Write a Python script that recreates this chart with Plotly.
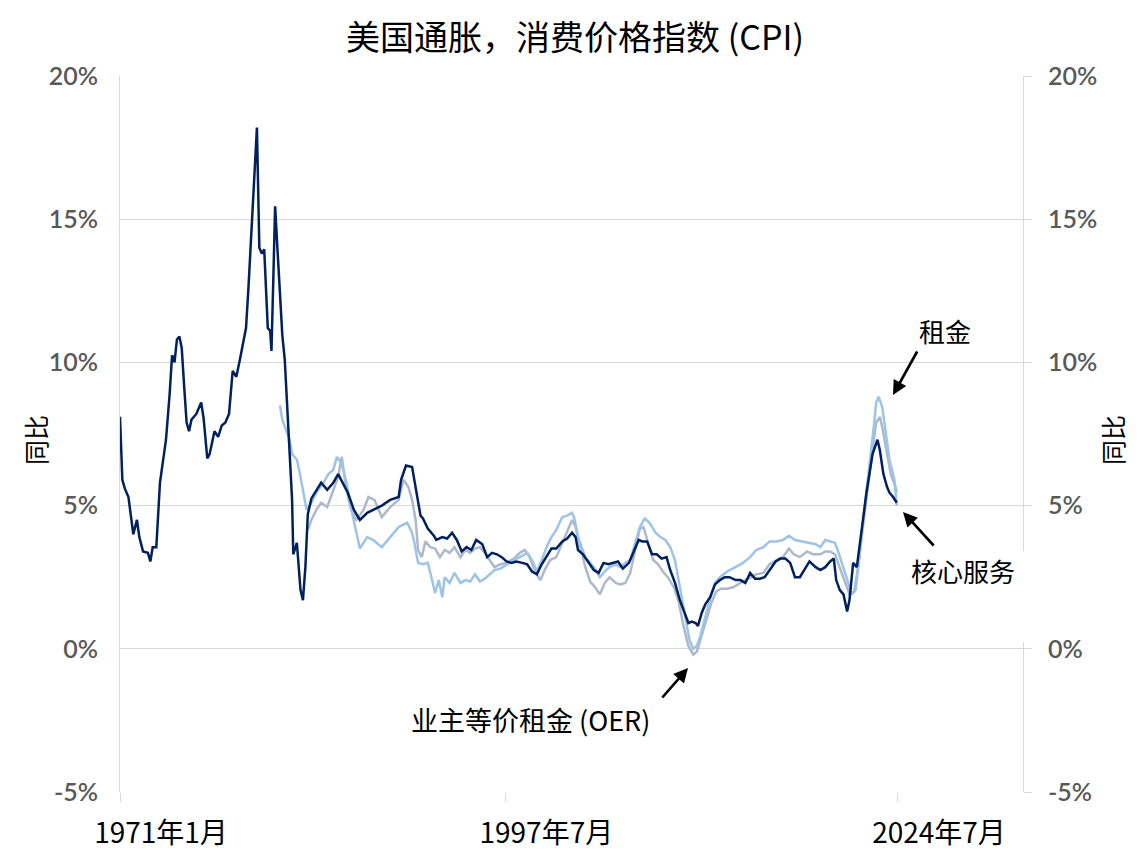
import plotly.graph_objects as go

# ---------------- data (YoY %, monthly readings picked off the chart) ----------------
core_dates = ["1971-01","1971-03","1971-05","1971-08","1971-12","1972-03","1972-05","1972-08","1972-12","1973-02",
"1973-04","1973-07","1973-10","1974-01","1974-03","1974-06","1974-08","1974-10","1974-12","1975-02",
"1975-04","1975-06","1975-08","1975-10","1975-12","1976-04","1976-08","1976-10","1977-01","1977-03",
"1977-07","1977-10","1978-01","1978-04","1978-07","1978-10","1979-01","1979-04","1979-06","1979-09",
"1979-11","1980-02","1980-04","1980-06","1980-08","1980-10","1980-12","1981-02","1981-03","1981-05",
"1981-06","1981-08","1981-09","1981-11","1982-01","1982-03","1982-05","1982-07","1982-09","1982-11",
"1982-12","1983-03","1983-06","1983-08","1983-10","1983-12","1984-03","1984-07","1984-11","1985-04",
"1985-09","1986-01","1986-05","1986-09","1987-02","1987-07","1988-01","1988-06","1989-01","1989-08",
"1990-03","1990-05","1990-09","1991-02","1991-04","1991-06","1991-09","1991-11","1992-03","1992-08",
"1992-10","1993-03","1993-07","1993-11","1994-03","1994-07","1994-11","1995-03","1995-07","1995-12",
"1996-04","1996-08","1996-12","1997-04","1997-08","1997-12","1998-04","1998-09","1999-01","1999-05",
"1999-09","2000-01","2000-05","2000-09","2001-01","2001-06","2001-10","2002-02","2002-05","2002-07",
"2002-11","2003-04","2003-08","2003-12","2004-04","2004-08","2004-12","2005-04","2005-08","2006-01",
"2006-05","2006-09","2006-12","2007-04","2007-08","2007-12","2008-04","2008-08","2008-11","2009-03",
"2009-07","2009-11","2010-02","2010-05","2010-08","2010-10","2011-01","2011-04","2011-08","2011-12",
"2012-04","2012-08","2012-12","2013-05","2013-09","2014-01","2014-05","2014-09","2015-01","2015-05",
"2015-09","2016-02","2016-06","2016-10","2017-02","2017-06","2017-10","2018-02","2018-06","2018-11",
"2019-03","2019-07","2019-11","2020-02","2020-04","2020-07","2020-10","2021-01","2021-03","2021-06",
"2021-09","2022-01","2022-05","2022-10","2023-01","2023-02","2023-04","2023-06","2023-07","2023-10",
"2023-12","2024-03","2024-06"]
core_services = [8.1,5.9,5.6,5.3,4.0,4.5,3.9,3.4,3.35,3.05,
3.55,3.55,5.8,6.8,7.3,8.9,10.25,10.0,10.8,10.9,
10.5,9.15,7.9,7.6,8.0,8.2,8.6,8.05,6.65,6.8,
7.6,7.4,7.8,7.9,8.2,9.7,9.5,10.1,10.5,11.2,
12.6,15.1,17.05,18.2,14.0,13.8,13.95,12.3,11.2,11.1,
10.4,13.7,15.45,13.9,12.2,10.95,10.1,8.3,6.6,5.2,
3.3,3.7,2.05,1.7,2.85,4.7,5.25,5.55,5.8,5.55,
5.8,6.1,5.8,5.45,4.85,4.5,4.75,4.85,5.0,5.2,
5.3,5.9,6.4,6.35,5.9,5.3,4.65,4.55,4.2,3.95,
3.8,3.9,3.85,4.05,3.8,3.4,3.55,3.45,3.8,3.65,
3.2,3.35,3.3,3.2,3.05,3.0,3.05,3.0,2.95,2.7,
2.6,2.95,3.2,3.5,3.5,3.75,3.85,4.05,3.9,3.45,
3.3,3.0,2.75,2.65,3.0,2.95,3.0,3.05,2.8,3.0,
3.4,3.8,3.75,3.75,3.3,3.3,3.15,3.2,2.75,2.3,
1.7,1.25,0.9,0.95,0.9,0.8,1.25,1.55,1.8,2.25,
2.4,2.5,2.5,2.4,2.4,2.3,2.65,2.45,2.45,2.5,
2.75,3.05,3.15,3.15,3.0,2.5,2.5,2.8,3.05,2.85,
2.75,2.85,3.05,3.15,2.4,2.05,1.9,1.3,1.7,3.0,
2.85,4.15,5.45,6.8,7.15,7.3,6.95,6.45,6.1,5.65,
5.45,5.3,5.1]

rent_dates = ["1982-01","1982-03","1982-06","1982-09","1982-11","1983-03","1983-06","1983-08","1983-11","1984-03",
"1984-07","1985-01","1985-05","1985-09","1985-12","1986-04","1986-08","1986-12","1987-04","1987-07",
"1988-01","1988-06","1989-01","1989-08","1990-03","1990-10","1991-02","1991-04","1991-07","1991-11",
"1992-03","1992-06","1992-09","1992-12","1993-03","1993-05","1993-09","1994-01","1994-06","1994-10",
"1995-02","1995-06","1995-10","1996-02","1996-06","1996-10","1997-03","1997-08","1998-02","1998-07",
"1999-01","1999-05","1999-09","2000-01","2000-05","2000-09","2001-01","2001-06","2001-10","2002-02",
"2002-04","2002-07","2003-01","2003-05","2003-09","2004-01","2004-05","2004-09","2005-02","2005-06",
"2005-10","2006-02","2006-06","2006-10","2007-02","2007-06","2007-11","2008-03","2008-07","2008-11",
"2009-03","2009-07","2009-11","2010-03","2010-06","2010-09","2010-12","2011-04","2011-08","2011-12",
"2012-04","2012-10","2013-03","2013-09","2013-11","2014-05","2014-10","2015-04","2015-09","2016-03",
"2016-08","2017-01","2017-06","2017-12","2018-05","2018-11","2019-03","2019-07","2019-11","2020-03",
"2020-06","2020-10","2021-02","2021-05","2021-08","2021-10","2022-02","2022-05","2022-08","2022-11",
"2023-01","2023-03","2023-06","2023-09","2023-12","2024-04","2024-06"]
rent = [8.5,8.0,7.65,7.3,6.8,6.6,6.0,5.5,4.85,5.1,
5.45,5.8,6.1,6.25,6.7,6.45,5.8,4.85,4.05,3.5,
3.9,3.8,3.55,3.9,4.25,4.4,4.05,3.7,3.0,2.95,
3.0,2.5,1.95,2.4,1.8,2.5,2.3,2.65,2.3,2.4,
2.35,2.6,2.35,2.45,2.6,2.75,2.8,2.95,3.1,3.2,
3.35,3.1,2.7,3.1,3.55,3.9,4.15,4.6,4.65,4.75,
4.55,3.9,3.2,3.0,2.8,2.5,2.7,2.85,2.95,2.85,
3.0,3.1,3.7,4.25,4.55,4.4,4.05,3.9,3.8,3.55,
3.1,2.15,1.25,0.3,0.0,0.1,0.45,1.15,1.75,2.3,
2.5,2.7,2.8,2.95,3.0,3.2,3.45,3.55,3.75,3.75,
3.8,3.95,3.8,3.75,3.7,3.65,3.55,3.8,3.75,3.7,
3.35,2.85,2.3,1.9,2.05,2.75,4.4,5.45,6.7,7.75,
8.6,8.8,8.45,7.5,6.6,5.9,5.0]

oer_dates = ["1983-12","1984-03","1984-07","1984-11","1985-04","1985-09","1986-01","1986-04","1986-07","1986-11",
"1987-04","1987-10","1988-02","1988-07","1989-01","1989-08","1990-03","1990-07","1990-11","1991-02",
"1991-05","1991-07","1991-10","1992-01","1992-05","1992-09","1993-01","1993-05","1993-09","1994-01",
"1994-06","1994-10","1995-02","1995-06","1995-10","1996-02","1996-06","1996-10","1997-03","1997-08",
"1998-02","1998-07","1998-11","1999-03","1999-08","1999-12","2000-04","2000-08","2001-01","2001-06",
"2001-10","2002-02","2002-05","2002-09","2003-01","2003-05","2003-09","2004-01","2004-05","2004-09",
"2005-02","2005-06","2005-10","2006-02","2006-06","2006-10","2007-01","2007-05","2007-09","2008-01",
"2008-05","2008-09","2009-02","2009-06","2009-10","2010-02","2010-06","2010-09","2011-01","2011-05",
"2011-09","2012-01","2012-05","2012-10","2013-03","2013-09","2013-11","2014-05","2014-10","2015-04",
"2015-09","2016-03","2016-08","2017-01","2017-05","2017-10","2018-04","2018-09","2019-03","2019-07",
"2019-11","2020-03","2020-07","2020-11","2021-03","2021-07","2021-10","2022-02","2022-06","2022-11",
"2023-01","2023-04","2023-06","2023-10","2024-01","2024-05","2024-06"]
oer = [4.15,4.5,4.85,5.1,4.95,5.55,6.0,6.7,5.8,4.95,
4.5,4.85,5.3,5.2,4.6,4.95,5.2,5.9,5.65,5.2,
4.5,3.45,3.2,3.75,3.55,3.5,3.2,3.45,3.35,3.55,
3.2,3.45,3.35,3.5,3.55,3.35,3.1,2.85,2.95,3.0,
3.15,3.35,3.45,3.2,2.65,2.4,2.8,3.1,3.2,3.7,
4.15,4.5,4.25,3.55,2.85,2.35,2.15,1.9,2.3,2.5,
2.3,2.25,2.3,2.65,3.45,4.2,4.25,3.7,3.1,2.95,
2.7,2.5,2.15,1.65,0.8,0.1,-0.2,-0.1,0.45,1.0,
1.6,2.0,2.1,2.1,2.15,2.3,2.35,2.5,2.6,2.65,
2.95,3.1,3.2,3.5,3.3,3.2,3.4,3.3,3.3,3.4,
3.4,3.3,2.85,2.4,1.9,2.0,2.85,4.25,5.65,7.3,
7.9,8.1,7.75,6.8,6.1,5.65,5.45]

x_tickvals = ["1971-01-01", "1997-07-01", "2024-07-01"]
x_ticktext = ["1971年1月", "1997年7月", "2024年7月"]
y_tickvals = [-5, 0, 5, 10, 15, 20]
y_ticktext = ["-5%", "0%", "5%", "10%", "15%", "20%"]

# ---------------- styling ----------------
NAVY = "#002060"
LIGHT = "#9DC3E6"
GRAY = "#ADB9CA"
GRID = "#D9D9D9"
CJK = "Noto Sans CJK SC"
TICKFONT = dict(family="Lato", size=25, color="#595959", weight=600)
OFF = 8  # page body margin of the browser

fig = go.Figure()
fig.add_trace(go.Scatter(x=oer_dates, y=oer, mode="lines", name="业主等价租金 (OER)",
                         line=dict(color=GRAY, width=2.5)))
fig.add_trace(go.Scatter(x=rent_dates, y=rent, mode="lines", name="租金",
                         line=dict(color=LIGHT, width=2.5)))
fig.add_trace(go.Scatter(x=core_dates, y=core_services, mode="lines", name="核心服务",
                         yaxis="y2", line=dict(color=NAVY, width=2.5)))

fig.update_layout(
    width=1143, height=855,
    margin=dict(l=120 - OFF, r=120 + OFF, t=76 - OFF, b=63 + OFF, autoexpand=False),
    paper_bgcolor="white", plot_bgcolor="white",
    showlegend=False,
    title=dict(text="美国通胀，消费价格指数 (CPI)", x=(575 - OFF) / 1143, xref="container",
               xanchor="center", y=1 - (38 - OFF) / 855, yref="container", yanchor="middle",
               font=dict(family=CJK, size=34, color="#000000")),
    xaxis=dict(type="date", range=["1971-01-01", "2033-02-04"], automargin=False,
               tickvals=x_tickvals, ticktext=x_ticktext,
               showgrid=False, zeroline=False, showline=False,
               ticks="outside", ticklen=9, tickcolor=GRID, tickwidth=1,
               ticklabelshift=41, ticklabelstandoff=7,
               tickfont=dict(family=CJK, size=28, color="#000000")),
    yaxis=dict(range=[-5, 20], tickvals=y_tickvals, ticktext=y_ticktext, automargin=False,
               showgrid=True, gridcolor=GRID, gridwidth=1, zeroline=False,
               showline=True, linecolor=GRID, linewidth=1,
               ticks="", ticklabelstandoff=16, tickfont=TICKFONT),
    yaxis2=dict(range=[-5, 20], tickvals=y_tickvals, ticktext=y_ticktext, automargin=False,
                overlaying="y", side="right", anchor="x",
                showgrid=False, zeroline=False,
                showline=True, linecolor=GRID, linewidth=1,
                ticks="outside", ticklen=8, tickcolor=GRID, ticklabelstandoff=11,
                tickfont=TICKFONT),
)

# white box behind the core-services label (as in the original)
fig.add_shape(type="rect", xref="paper", yref="paper", layer="above",
              x0=(900 - 120) / 903, x1=(1032 - 120) / 903,
              y0=(792 - 642) / 716, y1=(792 - 551) / 716,
              line=dict(width=0), fillcolor="white")

def px(xp, yp):
    return (xp - 120) / 903, (792 - yp) / 716

anns = []
# axis titles
for xp in (35, 1112):
    x, y = px(xp, 440)
    anns.append(dict(text="同比", x=x, y=y, xref="paper", yref="paper", showarrow=False,
                     xanchor="center", yanchor="middle",
                     textangle=-90, font=dict(family=CJK, size=25, color="#000000")))
# labels
for txt, xp, yp, fs in [("租金", 945, 330, 26), ("核心服务", 963, 570, 26),
                        ("业主等价租金 (OER)", 530, 719, 27)]:
    x, y = px(xp, yp)
    anns.append(dict(text=txt, x=x, y=y, xref="paper", yref="paper", showarrow=False,
                     xanchor="center", yanchor="middle",
                     font=dict(family=CJK, size=fs, color="#000000")))
# arrows (head position, tail offset in px)
for hx, hy, ax, ay in [(893, 395, 25, -45), (903, 512, 32, 35), (688, 668, -27, 31)]:
    x, y = px(hx, hy)
    anns.append(dict(text="", x=x, y=y, xref="paper", yref="paper", showarrow=True,
                     ax=ax, ay=ay, arrowhead=2, arrowsize=1.1, arrowwidth=2.6,
                     arrowcolor="#000000", standoff=0, startstandoff=0))
fig.update_layout(annotations=anns)

fig.write_html("out.html")
